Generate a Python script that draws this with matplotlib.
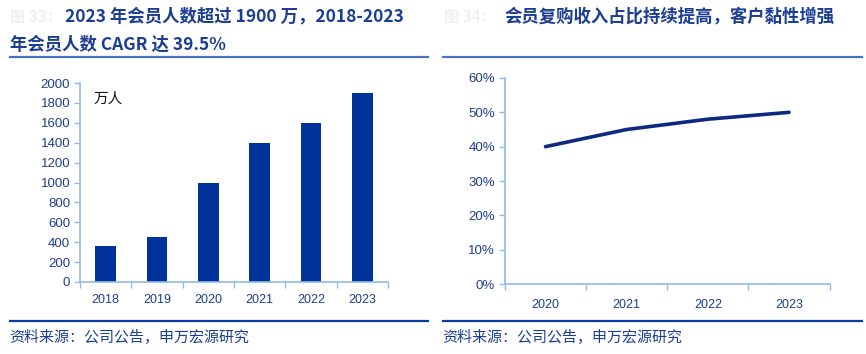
import matplotlib
matplotlib.use("Agg")
import matplotlib.pyplot as plt
from matplotlib.lines import Line2D
from matplotlib.ticker import FixedLocator

plt.rcParams['font.family'] = ['Liberation Sans', 'Noto Sans CJK SC', 'DejaVu Sans']

# 数据
years_left = ['2018', '2019', '2020', '2021', '2022', '2023']
members = [360, 450, 1000, 1400, 1600, 1900]   # 万人
years_right = ['2020', '2021', '2022', '2023']
repurchase_share = [40, 45, 48, 50]              # %

title_left_1 = '2023 年会员人数超过 1900 万，2018-2023'
title_left_2 = '年会员人数 CAGR 达 39.5%'
title_right = '会员复购收入占比持续提高，客户黏性增强'
source = '资料来源：公司公告，申万宏源研究'

navy = '#003399'
tick_col = '#1f3d8c'
spine_col = '#8fbbe8'
title_col = '#1b3d94'
cjk = ['Noto Sans CJK SC', 'DejaVu Sans']

fig = plt.figure(figsize=(8.66, 3.54), dpi=100)

def style_axes(ax, n):
    for s in ['top', 'right']:
        ax.spines[s].set_visible(False)
    for s in ['left', 'bottom']:
        ax.spines[s].set_color(spine_col)
        ax.spines[s].set_linewidth(1.2)
    ax.set_xlim(-0.5, n - 0.5)
    ax.xaxis.set_minor_locator(FixedLocator([i - 0.5 for i in range(n + 1)]))
    ax.tick_params(axis='x', which='major', length=0, pad=9, labelsize=9, labelcolor=tick_col)
    ax.tick_params(axis='x', which='minor', length=4, color=spine_col, width=1)
    ax.tick_params(axis='y', length=4, color=spine_col, width=1, labelsize=9.5, labelcolor=tick_col, pad=3)

# 左图：会员人数
ax1 = fig.add_axes([0.0924, 0.2034, 0.3556, 0.5621])
ax1.bar(range(len(years_left)), members, width=0.4, color=navy)
ax1.set_xticks(range(len(years_left)))
ax1.set_xticklabels(years_left)
ax1.set_ylim(0, 2000)
ax1.set_yticks(range(0, 2001, 200))
style_axes(ax1, len(years_left))
ax1.text(0.045, 0.955, '万人', transform=ax1.transAxes, fontsize=10.5, family=cjk,
         color='#111111', va='top', ha='left')

# 右图：复购收入占比
ax2 = fig.add_axes([0.583, 0.1977, 0.375, 0.582])
ax2.plot(range(len(years_right)), repurchase_share, color='#0e2a80', linewidth=2.6,
         solid_capstyle='round')
ax2.set_xticks(range(len(years_right)))
ax2.set_xticklabels(years_right)
ax2.set_ylim(0, 60)
ax2.set_yticks(range(0, 61, 10))
ax2.set_yticklabels([f'{v}%' for v in range(0, 61, 10)])
style_axes(ax2, len(years_right))
ax2.tick_params(axis='x', which='major', pad=11)

# 标题
tsize = 12.5
fig.text(10 / 866, 1 - 17 / 354, '图 33：', fontsize=11, color='#f0f0f0',
         fontweight='bold', family=cjk, va='center', ha='left')
fig.text(65 / 866, 1 - 17 / 354, title_left_1, fontsize=tsize, color=title_col,
         fontweight='bold', family=cjk, va='center', ha='left')
fig.text(10 / 866, 1 - 45 / 354, title_left_2, fontsize=tsize, color=title_col,
         fontweight='bold', family=cjk, va='center', ha='left')
fig.text(444 / 866, 1 - 17 / 354, '图 34：', fontsize=11, color='#f0f0f0',
         fontweight='bold', family=cjk, va='center', ha='left')
fig.text(505 / 866, 1 - 17 / 354, title_right, fontsize=tsize, color=title_col,
         fontweight='bold', family=cjk, va='center', ha='left')

# 分隔线
for x0, x1 in [(10, 428), (443, 862)]:
    fig.add_artist(Line2D([x0 / 866, x1 / 866], [1 - 57 / 354] * 2, color='#4a72c4',
                          linewidth=1.6, transform=fig.transFigure))
    fig.add_artist(Line2D([x0 / 866, x1 / 866], [1 - 321 / 354] * 2, color='#0a3aa8',
                          linewidth=1.6, transform=fig.transFigure))
    fig.text((x0 - 1) / 866, 1 - 338 / 354, source, fontsize=10.8, color=title_col,
             family=cjk, va='center', ha='left')

fig.savefig('out.png', dpi=100)
